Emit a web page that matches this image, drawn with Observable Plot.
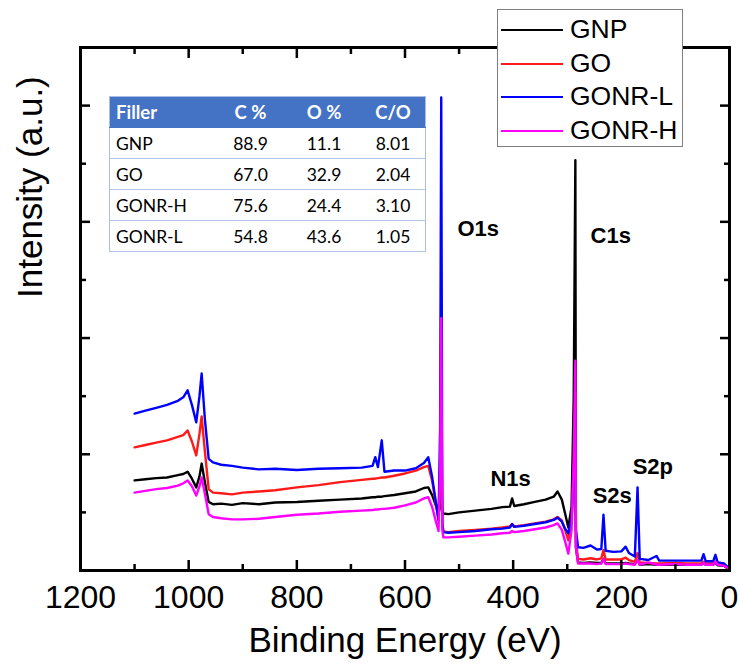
<!DOCTYPE html>
<html>
<head>
<meta charset="utf-8">
<script src="https://cdn.jsdelivr.net/npm/d3@7"></script>
<script src="https://cdn.jsdelivr.net/npm/@observablehq/plot@0.6"></script>
<style>
  html, body { margin: 0; padding: 0; background: #fff; }
  #wrap { position: relative; width: 740px; height: 671px; overflow: hidden; }
  #chart { position: absolute; left: 0; top: 0; }
  #legend {
    position: absolute; left: 497px; top: 9px; width: 184px; height: 136px;
    border: 1px solid #7f7f7f; background: #fff; z-index: 3;
    font-family: "Liberation Sans", Arial, sans-serif; font-size: 26.5px; color: #000;
  }
  #legend .row { position: absolute; left: 0; height: 34px; width: 100%; }
  #legend .sw { position: absolute; left: 3px; width: 62px; top: 16px; height: 0; border-top: 2px solid; }
  #legend .lb { position: absolute; left: 72px; top: 1px; line-height: 30px; white-space: nowrap; }
  #tbl {
    position: absolute; left: 109px; top: 96px; z-index: 3;
    border-collapse: collapse; font-family: Lato, "Open Sans", sans-serif; font-size: 17.5px;
    background: #fff; border: 1px solid #a9bde4;
  }
  #tbl td, #tbl th { height: 30px; padding: 0; border-bottom: 1px solid #b4c6e7; }
  #tbl th { background: #4472c4; color: #fff; font-weight: bold; font-size: 18.5px; border-bottom: 1px solid #4472c4; }
  #tbl .c0 { width: 98px; text-align: left; padding-left: 6px; }
  #tbl .c1 { width: 73px; text-align: center; }
  #tbl .c2 { width: 74px; text-align: center; }
  #tbl .c3 { width: 64px; text-align: center; }
</style>
</head>
<body>
<div id="wrap">
  <div id="chart"></div>
  <div id="legend"></div>
  <table id="tbl"></table>
</div>
<script>
// ---- data ----
const seriesNames = ["GNP", "GO", "GONR-L", "GONR-H"];
const seriesColors = ["#000000", "#ff1a1a", "#0000ff", "#ff00ff"];

const energy = [1100,1080,1060,1040,1020,1010,1002,994,986,980,976,970,963,955,940,920,900,870,840,800,760,720,680,660,655,650,643,638,620,600,580,565,557,550,543,538,535,533,531,529,520,500,470,440,420,406,402,398,380,360,340,325,318,310,304,298,292,288,285,284,280,270,257,245,237,233,229,215,200,192,186,175,170,166,150,135,130,100,80,52,48,44,30,26,22,10,3,0];

const gnp = [1.55,1.57,1.59,1.60,1.64,1.66,1.70,1.58,1.43,1.62,1.84,1.52,1.18,1.14,1.15,1.13,1.16,1.14,1.17,1.18,1.20,1.22,1.24,1.26,1.26,1.27,1.27,1.28,1.30,1.33,1.36,1.42,1.43,1.30,1.12,0.98,1.10,1.60,1.00,0.98,0.97,1.00,1.03,1.06,1.09,1.10,1.24,1.11,1.14,1.18,1.22,1.27,1.36,1.22,0.98,0.74,1.10,3.00,7.06,0.40,0.14,0.13,0.14,0.13,0.13,0.20,0.12,0.12,0.12,0.13,0.12,0.11,0.18,0.10,0.11,0.10,0.10,0.10,0.10,0.10,0.12,0.10,0.10,0.13,0.09,0.08,0.03,0.00];

const go = [2.12,2.16,2.20,2.24,2.30,2.33,2.41,2.22,1.98,2.35,2.65,2.05,1.40,1.34,1.33,1.31,1.34,1.36,1.38,1.43,1.47,1.52,1.56,1.58,1.58,1.59,1.60,1.60,1.63,1.67,1.72,1.78,1.80,1.55,1.15,0.88,1.50,3.70,0.80,0.67,0.66,0.68,0.70,0.72,0.74,0.76,0.80,0.76,0.78,0.81,0.84,0.88,0.92,0.86,0.70,0.52,0.85,1.80,3.06,0.50,0.20,0.19,0.21,0.19,0.21,0.35,0.19,0.19,0.19,0.22,0.18,0.15,0.30,0.14,0.13,0.12,0.12,0.13,0.12,0.12,0.15,0.12,0.12,0.15,0.11,0.10,0.04,0.01];

const gonrL = [2.70,2.75,2.80,2.85,2.92,2.98,3.10,2.85,2.55,3.00,3.39,2.60,1.92,1.86,1.82,1.80,1.77,1.74,1.75,1.73,1.75,1.76,1.77,1.80,1.95,1.78,2.24,1.70,1.72,1.72,1.76,1.85,1.95,1.62,1.18,0.86,2.50,8.14,0.80,0.66,0.65,0.66,0.68,0.71,0.72,0.74,0.80,0.75,0.77,0.80,0.83,0.87,0.91,0.84,0.72,0.64,0.90,1.60,2.80,0.70,0.40,0.39,0.43,0.36,0.37,0.96,0.34,0.32,0.33,0.41,0.30,0.24,1.43,0.20,0.18,0.25,0.17,0.17,0.17,0.17,0.28,0.16,0.16,0.27,0.14,0.12,0.06,0.02];

const gonrH = [1.34,1.37,1.40,1.42,1.46,1.50,1.55,1.45,1.29,1.45,1.60,1.32,0.97,0.92,0.90,0.88,0.88,0.89,0.92,0.96,0.98,1.01,1.03,1.04,1.05,1.05,1.06,1.06,1.08,1.12,1.17,1.24,1.26,1.10,0.85,0.68,1.80,4.34,0.70,0.57,0.57,0.58,0.60,0.62,0.64,0.65,0.68,0.66,0.68,0.71,0.74,0.78,0.81,0.70,0.50,0.29,0.70,1.90,3.61,0.40,0.12,0.12,0.12,0.11,0.12,0.20,0.11,0.11,0.11,0.12,0.11,0.10,0.18,0.10,0.14,0.10,0.10,0.11,0.10,0.10,0.13,0.10,0.10,0.15,0.10,0.08,0.04,0.01];

const xMajorTicks = [1200, 1000, 800, 600, 400, 200, 0];
const xMinorTicks = [1100, 900, 700, 500, 300, 100];
const yMajorTicks = [2, 4, 6, 8];
const yMinorTicks = [1, 3, 5, 7];

const peakLabels = ["O1s", "C1s", "N1s", "S2s", "S2p"];
const peakEnergy = [503, 257, 442, 253, 179];
const peakIntensity = [5.88, 5.75, 1.58, 1.29, 1.79];

const tableHeader = ["Filler", "C %", "O %", "C/O"];
const tableFiller = ["GNP", "GO", "GONR-H", "GONR-L"];
const tableC = ["88.9", "67.0", "75.6", "54.8"];
const tableO = ["11.1", "32.9", "24.4", "43.6"];
const tableCO = ["8.01", "2.04", "3.10", "1.05"];

// ---- build ----
const allSeries = [gnp, go, gonrL, gonrH];
const rows = seriesNames.flatMap((name, i) =>
  energy.map((e, j) => ({series: name, E: e, I: allSeries[i][j]})));
const peaks = peakLabels.map((t, i) => ({t, E: peakEnergy[i], I: peakIntensity[i]}));
const blank = () => "";

const chart = Plot.plot({
  width: 740,
  height: 671,
  marginLeft: 80,
  marginRight: 11,
  marginTop: 47,
  marginBottom: 101,
  style: {fontFamily: "'Liberation Sans', Arial, sans-serif", background: "#fff", color: "#000"},
  x: {domain: [1200, 0]},
  y: {domain: [0, 9]},
  color: {domain: seriesNames, range: seriesColors},
  marks: [
    Plot.line(rows, {x: "E", y: "I", z: "series", stroke: "series", strokeWidth: 2.4, strokeLinejoin: "round"}),
    Plot.axisX({anchor: "bottom", ticks: xMajorTicks, tickSize: -10, tickPadding: 25, tickFormat: d => String(d), fontSize: 32, strokeWidth: 2.5, label: null}),
    Plot.axisX({anchor: "bottom", ticks: xMinorTicks, tickSize: -6, tickFormat: blank, strokeWidth: 2.5, label: null}),
    Plot.axisX({anchor: "top", ticks: xMajorTicks, tickSize: -10, tickFormat: blank, strokeWidth: 2.5, label: null}),
    Plot.axisX({anchor: "top", ticks: xMinorTicks, tickSize: -6, tickFormat: blank, strokeWidth: 2.5, label: null}),
    Plot.axisY({anchor: "left", ticks: yMajorTicks, tickSize: -10, tickFormat: blank, strokeWidth: 2.5, label: null}),
    Plot.axisY({anchor: "left", ticks: yMinorTicks, tickSize: -6, tickFormat: blank, strokeWidth: 2.5, label: null}),
    Plot.axisY({anchor: "right", ticks: yMajorTicks, tickSize: -10, tickFormat: blank, strokeWidth: 2.5, label: null}),
    Plot.axisY({anchor: "right", ticks: yMinorTicks, tickSize: -6, tickFormat: blank, strokeWidth: 2.5, label: null}),
    Plot.frame({stroke: "#000", strokeWidth: 3}),
    Plot.text(peaks, {x: "E", y: "I", text: "t", textAnchor: "start", fontSize: 22, fontWeight: "bold", fill: "#000"}),
    Plot.text(["Binding Energy (eV)"], {frameAnchor: "bottom", text: d => d, dy: 81, fontSize: 35, fill: "#000"}),
    Plot.text(["Intensity (a.u.)"], {frameAnchor: "left", text: d => d, dx: -50, dy: -11, rotate: -90, fontSize: 35, fill: "#000"})
  ]
});
document.getElementById("chart").appendChild(chart);

// legend
const legend = document.getElementById("legend");
seriesNames.forEach((name, i) => {
  const r = document.createElement("div");
  r.className = "row";
  r.style.top = (3 + i * 33.5) + "px";
  r.innerHTML = `<div class="sw" style="border-color:${seriesColors[i]}"></div><div class="lb">${name}</div>`;
  legend.appendChild(r);
});

// table
const tbl = document.getElementById("tbl");
const cls = ["c0", "c1", "c2", "c3"];
let html = "<tr>" + tableHeader.map((h, i) => `<th class="${cls[i]}">${h}</th>`).join("") + "</tr>";
tableFiller.forEach((f, i) => {
  html += `<tr><td class="c0">${f}</td><td class="c1">${tableC[i]}</td><td class="c2">${tableO[i]}</td><td class="c3">${tableCO[i]}</td></tr>`;
});
tbl.innerHTML = html;
</script>
</body>
</html>
